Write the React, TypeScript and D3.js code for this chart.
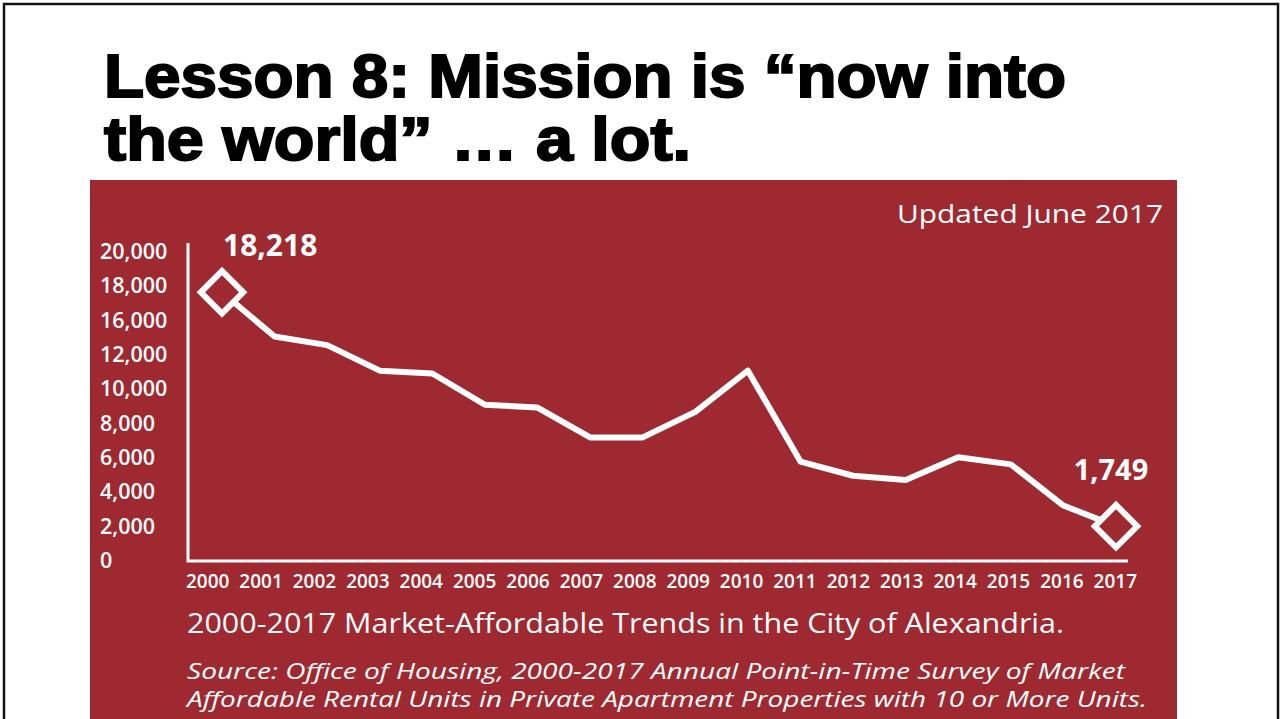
import { useEffect, useRef } from "react";
import * as d3 from "d3";

const years = ["2000", "2001", "2002", "2003", "2004", "2005", "2006", "2007", "2008",
    "2009", "2010", "2011", "2012", "2013", "2014", "2015", "2016", "2017"];

const units = [18218, 15100, 14500, 12700, 12500, 10300, 10100, 8000, 8000,
    9800, 12700, 6300, 5300, 5000, 6600, 6100, 3200, 1749];

// printed as-is on the original (no 14,000 label)
const yTickLabels = ["20,000", "18,000", "16,000", "12,000", "10,000", "8,000",
    "6,000", "4,000", "2,000", "0"];

const titleLines = ["Lesson 8: Mission is \u201cnow into", "the world\u201d \u2026 a lot."];
const updatedText = "Updated June 2017";
const chartTitle = "2000-2017 Market-Affordable Trends in the City of Alexandria.";
const sourceLines = [
    "Source: Office of Housing, 2000-2017 Annual Point-in-Time Survey of Market",
    "Affordable Rental Units in Private Apartment Properties with 10 or More Units.",
];

const RED = "#9e2930";
const FONT = "'Open Sans', sans-serif";

export default function App() {
    const width = 1281;
    const height = 719;
    const svgRef = useRef<SVGSVGElement | null>(null);

    useEffect(() => {
        const svg = d3.select(svgRef.current);
        svg.selectAll("*").remove();

        // slide
        svg.append("rect").attr("width", width).attr("height", height).attr("fill", "white");
        svg.append("rect")
            .attr("x", 4).attr("y", 4)
            .attr("width", 1274).attr("height", 740)
            .attr("fill", "none").attr("stroke", "#111").attr("stroke-width", 2.5);

        titleLines.forEach((t, i) => {
            svg.append("text")
                .attr("x", 104)
                .attr("y", 97 + i * 63)
                .attr("font-family", "'Liberation Sans', Arial, sans-serif")
                .attr("font-weight", "bold")
                .attr("font-size", 61)
                .attr("textLength", i === 0 ? 962 : 587)
                .attr("lengthAdjust", "spacingAndGlyphs")
                .attr("fill", "black")
                .attr("stroke", "black")
                .attr("stroke-width", 2)
                .text(t);
        });

        // chart panel
        svg.append("rect")
            .attr("x", 90).attr("y", 180)
            .attr("width", 1087).attr("height", 560)
            .attr("fill", RED);

        const g = svg.append("g").attr("font-family", FONT).attr("fill", "white");

        g.append("text")
            .attr("x", 1163).attr("y", 223)
            .attr("text-anchor", "end")
            .attr("font-size", 25)
            .attr("font-weight", 500)
            .attr("textLength", 266)
            .attr("lengthAdjust", "spacingAndGlyphs")
            .text(updatedText);

        const xScale = d3.scalePoint<string>().domain(years).range([222, 1116]);
        const xLabels = d3.scaleBand<string>().domain(years).range([181, 1142]);
        const yScale = d3.scaleLinear().domain([0, 20000]).range([551, 267]);
        const yLabels = d3.scalePoint<string>().domain(yTickLabels).range([259, 568]);

        // axes
        g.append("path")
            .attr("d", d3.line()([[188, 243], [188, 561], [1128, 561]]))
            .attr("fill", "none")
            .attr("stroke", "white")
            .attr("stroke-width", 3);

        g.selectAll(".ytick")
            .data(yTickLabels)
            .join("text")
            .attr("class", "ytick")
            .attr("x", 100)
            .attr("y", (d) => yLabels(d) as number)
            .attr("font-size", 21.5)
            .attr("font-weight", 600)
            .text((d) => d);

        g.selectAll(".xtick")
            .data(years)
            .join("text")
            .attr("class", "xtick")
            .attr("x", (d) => (xLabels(d) as number) + xLabels.bandwidth() / 2)
            .attr("y", 588)
            .attr("text-anchor", "middle")
            .attr("font-size", 19)
            .attr("font-weight", 600)
            .text((d) => d);

        const line = d3.line<number>()
            .x((_, i) => xScale(years[i]) as number)
            .y((d) => yScale(d));

        g.append("path")
            .datum(units)
            .attr("d", line)
            .attr("fill", "none")
            .attr("stroke", "white")
            .attr("stroke-width", 6)
            .attr("stroke-linejoin", "round");

        const ends = [0, units.length - 1];
        const diamond = d3.symbol().type(d3.symbolSquare).size(900);
        g.selectAll(".marker")
            .data(ends)
            .join("path")
            .attr("class", "marker")
            .attr("d", diamond)
            .attr("transform", (i) => `translate(${xScale(years[i])},${yScale(units[i])}) rotate(45)`)
            .attr("fill", RED)
            .attr("stroke", "white")
            .attr("stroke-width", 6);

        const fmt = d3.format(",");
        g.append("text")
            .attr("x", (xScale(years[0]) as number) + 1)
            .attr("y", yScale(units[0]) - 36)
            .attr("font-size", 30)
            .attr("font-weight", "bold")
            .text(fmt(units[0]));
        const last = units.length - 1;
        g.append("text")
            .attr("x", (xScale(years[last]) as number) - 5)
            .attr("y", yScale(units[last]) - 46)
            .attr("text-anchor", "middle")
            .attr("font-size", 29)
            .attr("font-weight", "bold")
            .text(fmt(units[last]));

        g.append("text")
            .attr("x", 187).attr("y", 633)
            .attr("font-size", 27)
            .attr("font-weight", 500)
            .attr("textLength", 877)
            .attr("lengthAdjust", "spacingAndGlyphs")
            .text(chartTitle);

        sourceLines.forEach((t, i) => {
            g.append("text")
                .attr("x", 187)
                .attr("y", 679 + i * 28)
                .attr("font-size", 22.5)
                .attr("font-style", "italic")
                .attr("font-weight", 500)
                .attr("textLength", i === 0 ? 938 : 960)
                .attr("lengthAdjust", "spacingAndGlyphs")
                .text(t);
        });
    }, []);

    return (
        <svg
            ref={svgRef}
            width={width}
            height={height}
            style={{ position: "absolute", left: 0, top: 0 }}
        />
    );
}
